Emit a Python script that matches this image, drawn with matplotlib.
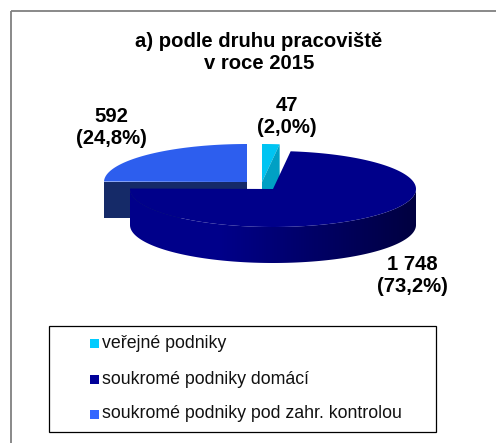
import numpy as np
import matplotlib
matplotlib.use('Agg')
import matplotlib.pyplot as plt
from matplotlib.patches import Rectangle, Polygon
from matplotlib.colors import LinearSegmentedColormap

plt.rcParams['font.family'] = ['Liberation Sans', 'DejaVu Sans']

categories = ['veřejné podniky', 'soukromé podniky domácí', 'soukromé podniky pod zahr. kontrolou']
values = [47, 1748, 592]
value_labels = ['47\n(2,0%)', '1 748\n(73,2%)', '592\n(24,8%)']
title = 'a) podle druhu pracoviště\nv roce 2015'
colors = ['#00c4f2', '#00008a', '#2d5eee']
legend_colors = ['#00ccff', '#000099', '#3366ff']
inner_colors = ['#00a0c4', '#00006a', '#152a68']

centers = [(262, 182), (273, 189), (247, 182)]
RX, RY, DEPTH = 143, 38, 36
label_pos = [(287, 116), (412, 275), (111, 127)]
legend_y = [343, 379, 414]

fig = plt.figure(figsize=(4.96, 4.43), dpi=100)
ax = fig.add_axes([0, 0, 1, 1])
ax.set_xlim(0, 496)
ax.set_ylim(443, 0)
ax.axis('off')


def ell(c, deg):
    t = np.radians(deg)
    return np.column_stack([c[0] + RX * np.sin(t), c[1] - RY * np.cos(t)])


fr = np.array(values) / sum(values) * 360
starts = np.concatenate([[0], np.cumsum(fr)[:-1]])
ends = np.cumsum(fr)

# frame
ax.plot([11, 11], [443, 11], color='#808080', lw=1.3, solid_capstyle='butt')
ax.plot([11, 496], [11, 11], color='#808080', lw=1.3, solid_capstyle='butt')

# slice 3 (foreign-controlled), drawn first: it sits behind the others
c = centers[2]
th = np.linspace(starts[2], ends[2], 80)
ax.add_patch(Polygon([(c[0] - RX, c[1]), (c[0], c[1]), (c[0], c[1] + DEPTH), (c[0] - RX, c[1] + DEPTH)],
                     fc=inner_colors[2], ec='none'))
ax.add_patch(Polygon(np.vstack([[c], ell(c, th)]), fc=colors[2], ec='none'))

# slice 1 (public)
c = centers[0]
th = np.linspace(starts[0], ends[0], 20)
edge = ell(c, ends[0])[0]
ax.add_patch(Polygon(np.vstack([[c], ell(c, th)]), fc=colors[0], ec='none'))
ax.add_patch(Polygon([c, edge, (edge[0], edge[1] + DEPTH), (c[0], c[1] + DEPTH)], fc=inner_colors[0], ec='none'))

# slice 2 (domestic): shaded side wall, then the top
c = centers[1]
a0, a1 = starts[1], ends[1]
arc = ell(c, np.linspace(90, min(a1, 270), 200))
wall = Polygon(np.vstack([arc, arc[::-1] + [0, DEPTH]]), fc='none', ec='none')
ax.add_patch(wall)
cmap = LinearSegmentedColormap.from_list('wall', [(0, '#00008a'), (0.31, '#00008a'), (1, '#000040')])
im = ax.imshow(np.linspace(0, 1, 286)[None, :], extent=(c[0] - RX, c[0] + RX, c[1] + RY + DEPTH, c[1] - RY),
               cmap=cmap, aspect='auto', zorder=1.5, vmin=0, vmax=1)
im.set_clip_path(wall)
ax.set_xlim(0, 496)
ax.set_ylim(443, 0)
th = np.linspace(a0, a1, 200)
ax.add_patch(Polygon(np.vstack([[c], ell(c, th)]), fc=colors[1], ec='none', zorder=1.6))

# labels
ax.text(259, 52, title, ha='center', va='center', fontsize=14.6, fontweight='bold', linespacing=1.2)
for (x, y), s in zip(label_pos, value_labels):
    ax.text(x, y, s, ha='center', va='center', fontsize=14.6, fontweight='bold', linespacing=1.2)

# legend
ax.add_patch(Rectangle((49, 326), 387, 106, fc='white', ec='black', lw=0.9))
for y, name, col in zip(legend_y, categories, legend_colors):
    ax.add_patch(Rectangle((90, y - 4.5), 9, 9, fc=col, ec='none'))
    ax.text(102, y, name, ha='left', va='center', fontsize=12.8, color='#111111')

fig.savefig('out.png', dpi=100)
